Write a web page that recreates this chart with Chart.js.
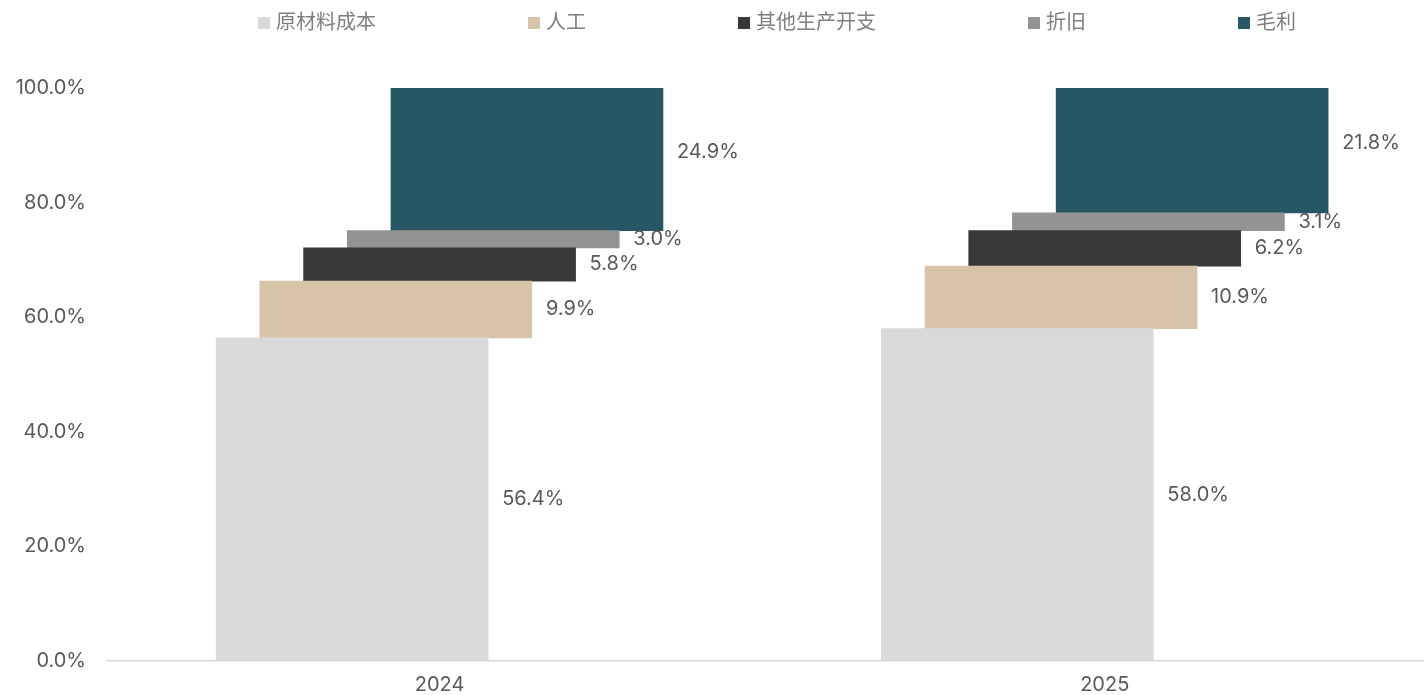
<!DOCTYPE html>
<html>
<head>
<meta charset="utf-8">
<script src="https://cdn.jsdelivr.net/npm/chart.js@4"></script>
<style>
  html, body { margin: 0; padding: 0; background: #fff; }
  #wrap { width: 1424px; height: 695px; }
</style>
</head>
<body>
<div id="wrap"><canvas id="costChart"></canvas></div>
<script>
// 年份和成本构成
const years = ['2024', '2025'];
const seriesNames = ['原材料成本', '人工', '其他生产开支', '折旧', '毛利'];
const seriesColors = ['#d9d9d9', '#d6c3a8', '#383838', '#939393', '#275764'];

// 每年各项占比 (%)
const raw2024 = [56.4, 9.9, 5.8, 3.0, 24.9];
const raw2025 = [58.0, 10.9, 6.2, 3.1, 21.8];
const yTicks = [0, 20, 40, 60, 80, 100];

const FONT = "Inter, 'Noto Sans CJK SC', sans-serif";
const shift = 0.0657; // 每个系列向右错开的距离（类别宽度的比例）

// 构建浮动柱数据：每一项从前面累计值开始
function buildDatasets() {
    const perYear = [raw2024, raw2025];
    return seriesNames.map((name, i) => {
        const data = perYear.map((vals, yi) => {
            const start = vals.slice(0, i).reduce((a, b) => a + b, 0);
            return { x: yi + (i - 2) * shift, y: [start, start + vals[i]], v: vals[i] };
        });
        return {
            label: name,
            data: data,
            backgroundColor: seriesColors[i],
            borderWidth: 0,
            barThickness: 272,
            grouped: false
        };
    });
}

// 数据标签，放在每个柱子右边
const valueLabels = {
    id: 'valueLabels',
    afterDatasetsDraw(chart) {
        const ctx = chart.ctx;
        ctx.save();
        ctx.font = '20px ' + FONT;
        ctx.fillStyle = '#595959';
        ctx.textAlign = 'left';
        ctx.textBaseline = 'middle';
        chart.data.datasets.forEach((ds, i) => {
            const meta = chart.getDatasetMeta(i);
            meta.data.forEach((bar, j) => {
                const x = bar.x + bar.width / 2 + 14;
                let y = (bar.y + bar.base) / 2;
                // 最上面一段的标签稍微偏上
                if (i === ds.length - 1 || i === seriesNames.length - 1) y -= 7;
                ctx.fillText(ds.data[j].v.toFixed(1) + '%', x, y);
            });
        });
        ctx.restore();
    }
};

// 顶部图例
const topLegend = {
    id: 'topLegend',
    afterDraw(chart) {
        const ctx = chart.ctx;
        ctx.save();
        ctx.font = '20px ' + FONT;
        ctx.textBaseline = 'middle';
        ctx.textAlign = 'left';
        let x = 258;
        const y = 23;
        seriesNames.forEach((name, i) => {
            ctx.fillStyle = seriesColors[i];
            ctx.fillRect(x, y - 6, 12, 12);
            ctx.fillStyle = '#7f7f7f';
            ctx.fillText(name, x + 18, y);
            x += 18 + ctx.measureText(name).width + 152;
        });
        ctx.restore();
    }
};

function renderChart() {
    const ctx = document.getElementById('costChart').getContext('2d');
    new Chart(ctx, {
        type: 'bar',
        data: { datasets: buildDatasets() },
        options: {
            responsive: true,
            maintainAspectRatio: false,
            animation: false,
            layout: { padding: { top: 88, right: 0, bottom: 0, left: 0 } },
            plugins: {
                legend: { display: false },
                tooltip: {
                    callbacks: {
                        title: items => years[Math.round(items[0].raw.x)],
                        label: c => `${c.dataset.label}: ${c.raw.v.toFixed(1)}%`
                    }
                }
            },
            scales: {
                x: {
                    type: 'linear',
                    offset: false,
                    min: -0.5,
                    max: 1.48,
                    grid: { display: false, drawTicks: false },
                    border: { display: true, color: '#d9d9d9', width: 1.5 },
                    afterBuildTicks: scale => {
                        scale.ticks = years.map((y, i) => ({ value: i }));
                    },
                    afterFit: scale => { scale.height = 34; },
                    ticks: {
                        padding: 12,
                        color: '#595959',
                        font: { family: FONT, size: 20 },
                        callback: v => years[v]
                    }
                },
                y: {
                    min: 0,
                    max: 100,
                    grid: { display: false, drawTicks: false },
                    border: { display: false },
                    afterBuildTicks: scale => {
                        scale.ticks = yTicks.map(v => ({ value: v }));
                    },
                    afterFit: scale => { scale.width = 107; },
                    ticks: {
                        padding: 21,
                        color: '#595959',
                        font: { family: FONT, size: 20 },
                        callback: v => v.toFixed(1) + '%'
                    }
                }
            }
        },
        plugins: [valueLabels, topLegend]
    });
}

renderChart();
</script>
</body>
</html>
